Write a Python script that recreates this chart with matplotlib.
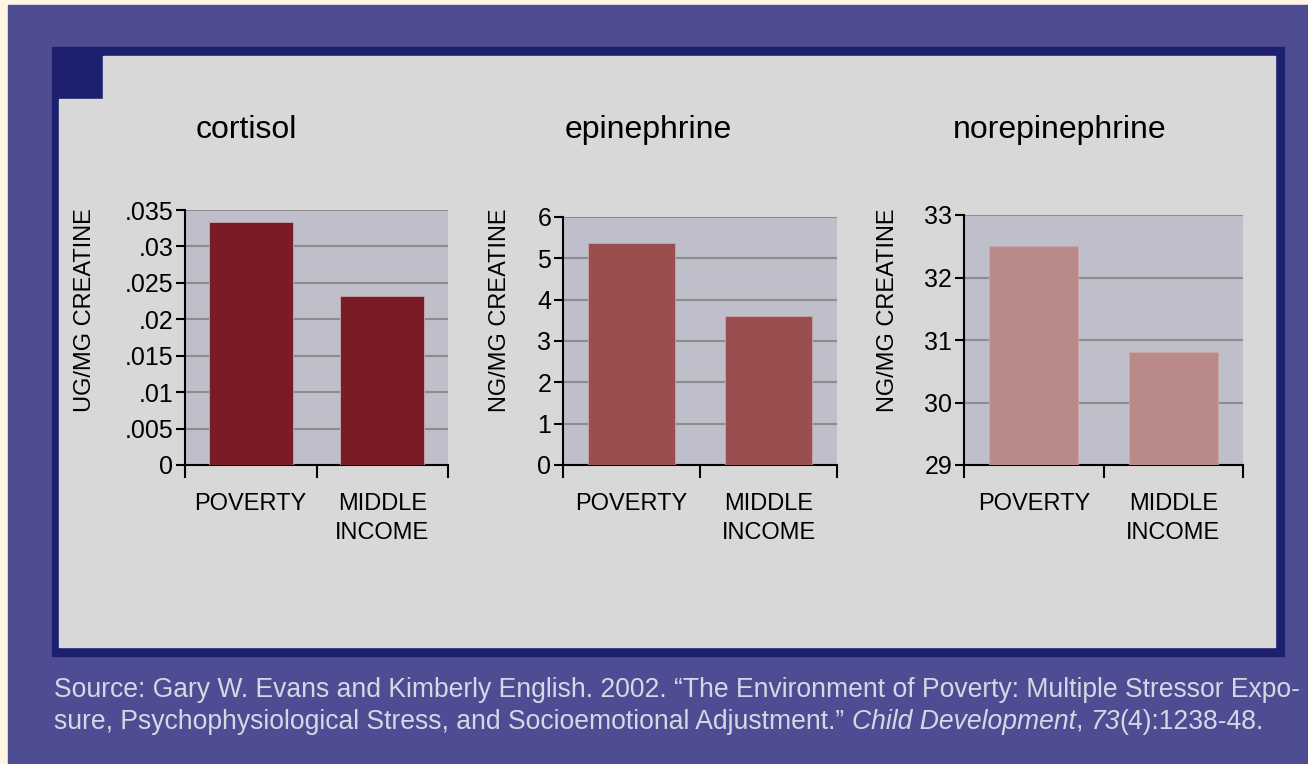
import numpy as np
import matplotlib
matplotlib.use("Agg")
import matplotlib.pyplot as plt
from matplotlib.patches import Rectangle, Polygon
from matplotlib.text import Annotation

# data
groups = ["POVERTY", "MIDDLE\nINCOME"]
titles = ["cortisol", "epinephrine", "norepinephrine"]
ylabels = ["UG/MG CREATINE", "NG/MG CREATINE", "NG/MG CREATINE"]
cortisol = [0.0333, 0.0232]
epinephrine = [5.38, 3.60]
norepinephrine = [32.5, 30.8]
cortisol_ticks = [0, 0.005, 0.01, 0.015, 0.02, 0.025, 0.03, 0.035]
cortisol_ticklabels = ["0", ".005", ".01", ".015", ".02", ".025", ".03", ".035"]
epi_ticks = [0, 1, 2, 3, 4, 5, 6]
nor_ticks = [29, 30, 31, 32, 33]

W, H = 1308, 764
fig = plt.figure(figsize=(W / 100, H / 100), dpi=100)
fig.patch.set_facecolor("#fff5e1")


def px(x, y):
    return (x / W, 1 - y / H)


# frames
fig.patches.append(Rectangle(px(8, H), (W - 8) / W, (H - 5) / H,
                             transform=fig.transFigure, color="#4e4d93", zorder=0))
fig.patches.append(Rectangle(px(52, 656), (1284 - 52) / W, (656 - 47) / H,
                             transform=fig.transFigure, color="#1c206e", zorder=0))
fig.patches.append(Polygon([px(59, 99), px(103, 99), px(103, 56), px(1275, 56),
                            px(1275, 647), px(59, 647)],
                           transform=fig.transFigure, color="#d8d8d8", zorder=0))

panels = [
    (cortisol, cortisol_ticks, cortisol_ticklabels, "#7a1c26", (185, 210, 448)),
    (epinephrine, epi_ticks, [str(t) for t in epi_ticks], "#9b4e4f", (563, 217, 837)),
    (norepinephrine, nor_ticks, [str(t) for t in nor_ticks], "#ba8a89", (964, 215, 1243)),
]
title_x = [246, 648, 1060]
ylabel_x = [85, 500, 888]
bottom = 465

for i, (vals, ticks, ticklabels, color, (l, t, r)) in enumerate(panels):
    ax = fig.add_axes([l / W, 1 - bottom / H, (r - l) / W, (bottom - t) / H])
    ax.set_zorder(5)
    ax.set_facecolor("#bfbfcb")
    x = np.arange(len(groups))
    base = ticks[0]
    ax.bar(x, np.array(vals) - base, bottom=base, width=0.64, color=color,
           edgecolor="#c8a8ac", linewidth=0.6, zorder=3)
    ax.set_xlim(-0.5, 1.5)
    ax.set_ylim(ticks[0], ticks[-1])
    ax.set_yticks(ticks)
    ax.set_yticklabels(ticklabels, fontsize=18, family="Liberation Sans")
    ax.yaxis.grid(True, color="#8c8c8c", linewidth=1.5, zorder=1)
    ax.set_axisbelow(True)
    ax.set_xticks([-0.5, 0.5, 1.5])
    ax.set_xticklabels([])
    ax.set_xticks(x, minor=True)
    ax.set_xticklabels(groups, minor=True, fontsize=17, family="Liberation Sans",
                       linespacing=1.4, va="top")
    ax.tick_params(axis="x", which="major", direction="out", length=9, width=1.5)
    ax.tick_params(axis="x", which="minor", length=0, pad=20)
    ax.tick_params(axis="y", direction="out", length=6.5, width=1.5, pad=2)
    for s in ["top", "right"]:
        ax.spines[s].set_visible(False)
    for s in ["left", "bottom"]:
        ax.spines[s].set_linewidth(1.5)
        ax.spines[s].set_color("black")
    fig.text(title_x[i] / W, 1 - 130 / H, titles[i], fontsize=23,
             family="Liberation Sans", ha="center", va="center")
    fig.text(ylabel_x[i] / W, 1 - 310 / H, ylabels[i], fontsize=17,
             family="Liberation Sans", rotation=90, ha="center", va="center")

# source note, with italic parts
src_color = "#d6d6e4"
fs = 19.1
fig.text(54 / W, 1 - 703 / H,
         "Source: Gary W. Evans and Kimberly English. 2002. \u201cThe Environment of Poverty: "
         "Multiple Stressor Expo-", fontsize=fs, color=src_color,
         family="Liberation Sans", va="bottom")
pieces = [
    ("sure, Psychophysiological Stress, and Socioemotional Adjustment.\u201d ", "normal"),
    ("Child Development", "italic"),
    (", ", "normal"),
    ("73", "italic"),
    ("(4):1238-48.", "normal"),
]
prev = fig.text(54 / W, 1 - 735 / H, pieces[0][0], fontsize=fs, color=src_color,
                family="Liberation Sans", va="bottom")
for txt, style in pieces[1:]:
    ann = Annotation(txt, xy=(1, 0), xycoords=prev, va="bottom", ha="left",
                     fontsize=fs, color=src_color, family="Liberation Sans", style=style)
    fig.add_artist(ann)
    prev = ann

plt.savefig("out.png", dpi=100, facecolor=fig.get_facecolor())
